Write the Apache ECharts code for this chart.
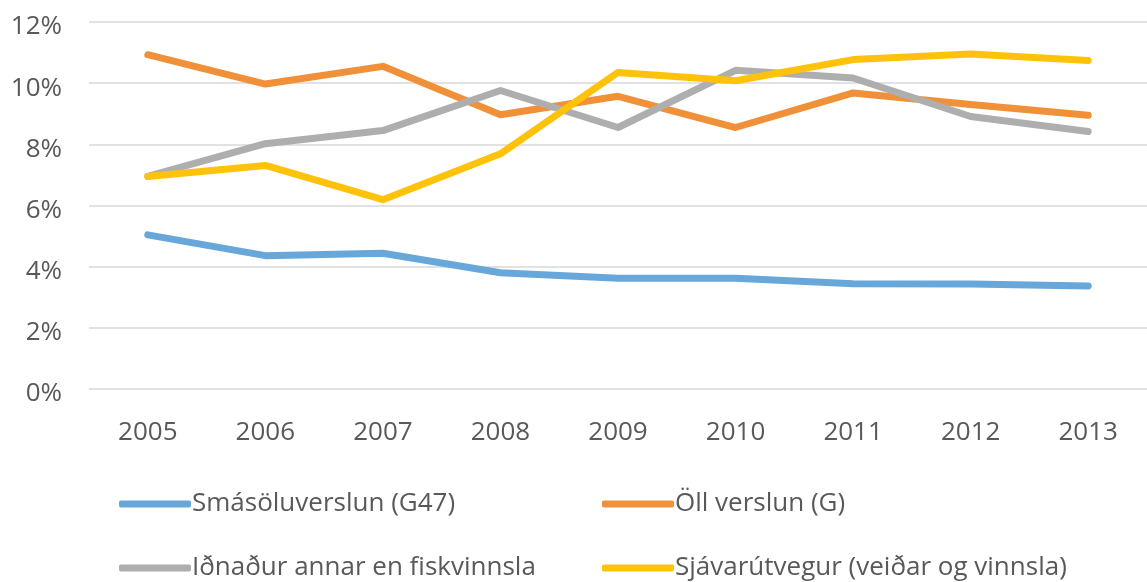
<!DOCTYPE html>
<html>
<head>
<meta charset="utf-8">
<script src="https://cdn.jsdelivr.net/npm/echarts@6/dist/echarts.min.js"></script>
<style>
  html, body { margin: 0; padding: 0; background: #fff; }
  #chart { width: 1147px; height: 582px; }
</style>
</head>
<body>
<div id="chart"></div>
<script>
const years = ["2005", "2006", "2007", "2008", "2009", "2010", "2011", "2012", "2013"];
const smasala = [5.04, 4.36, 4.44, 3.8, 3.62, 3.62, 3.44, 3.43, 3.37];
const ollVerslun = [10.93, 9.97, 10.55, 8.97, 9.57, 8.55, 9.68, 9.3, 8.95];
const idnadur = [6.95, 8.02, 8.45, 9.76, 8.55, 10.42, 10.17, 8.91, 8.42];
const sjavarutvegur = [6.95, 7.31, 6.19, 7.69, 10.35, 10.08, 10.77, 10.95, 10.74];
const yTicks = { min: 0, max: 12, interval: 2 };

const names = ["Smásöluverslun (G47)", "Öll verslun (G)", "Iðnaður annar en fiskvinnsla", "Sjávarútvegur (veiðar og vinnsla)"];
const colors = ["#68A7DA", "#F0913A", "#AEAEAE", "#FFC20A"];
const values = [smasala, ollVerslun, idnadur, sjavarutvegur];

const fontFamily = "'Open Sans', 'Liberation Sans', sans-serif";

// one legend per entry: 2 columns x 2 rows
const legendLeft = [114, 597];
const legendTop = [486, 550];
function legendItem(i) {
  return {
    left: legendLeft[i % 2],
    top: legendTop[Math.floor(i / 2)],
    itemWidth: 72,
    itemHeight: 7,
    icon: "roundRect",
    textStyle: { color: "#595959", fontSize: 26, fontFamily: fontFamily, padding: [0, 0, 0, -4] },
    data: [names[i]]
  };
}

const chart = echarts.init(document.getElementById("chart"));

chart.setOption({
  animation: false,
  backgroundColor: "#fff",
  grid: { left: 89, right: 0, top: 22, bottom: 193 },
  legend: names.map((n, i) => legendItem(i)),
  xAxis: {
    type: "category",
    data: years,
    axisLine: { show: false },
    axisTick: { show: false },
    axisLabel: { color: "#595959", fontSize: 26, fontFamily: fontFamily, margin: 31 }
  },
  yAxis: {
    type: "value",
    min: yTicks.min,
    max: yTicks.max,
    interval: yTicks.interval,
    axisLabel: { color: "#595959", fontSize: 26, fontFamily: fontFamily, margin: 27, formatter: "{value}%", verticalAlign: "top", lineHeight: 10 },
    splitLine: { lineStyle: { color: "#D9D9D9", width: 1.5 } }
  },
  series: names.map((n, i) => ({
    name: n,
    type: "line",
    data: values[i],
    symbol: "none",
    color: colors[i],
    lineStyle: { width: 7, color: colors[i], cap: "round", join: "round" }
  }))
});
</script>
</body>
</html>
